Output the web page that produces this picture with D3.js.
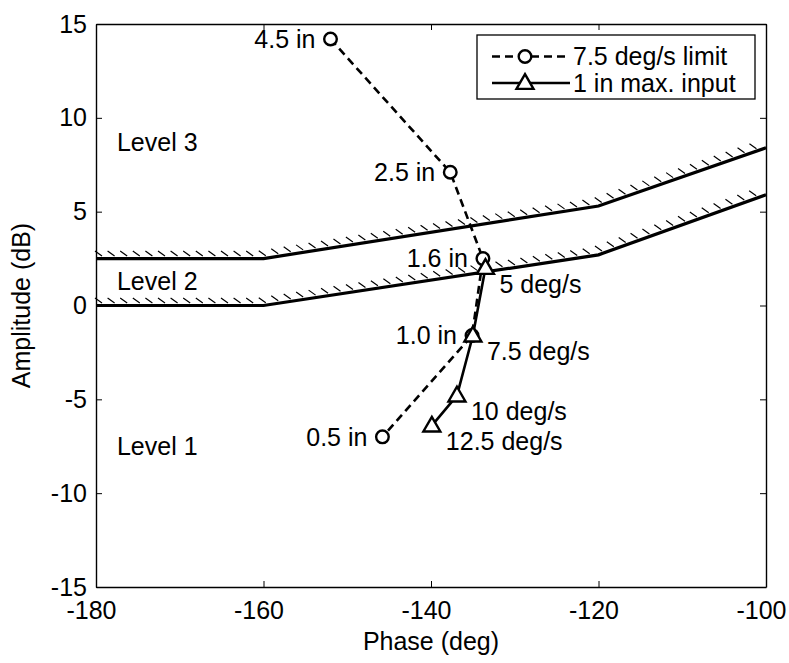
<!DOCTYPE html>
<html><head><meta charset="utf-8">
<script src="https://cdn.jsdelivr.net/npm/d3@7"></script>
<style>
html,body{margin:0;padding:0;background:#fff;}
text{font-family:"Liberation Sans",Arial,sans-serif;}
</style></head>
<body><svg id="c" width="789" height="663"></svg>
<script>
// ---- data ----
const xTicks = [-180, -160, -140, -120, -100];
const yTicks = [-15, -10, -5, 0, 5, 10, 15];

const limitLabels = ["4.5 in", "2.5 in", "1.6 in", "1.0 in", "0.5 in"];
const limitPhase  = [-152.0, -137.7, -133.8, -135.1, -145.8];
const limitAmp    = [14.2, 7.1, 2.5, -1.6, -7.0];

const inputLabels = ["5 deg/s", "7.5 deg/s", "10 deg/s", "12.5 deg/s"];
const inputPhase  = [-133.5, -135.0, -136.9, -139.9];
const inputAmp    = [2.0, -1.6, -4.8, -6.4];

const upperPhase = [-180, -160, -120, -100];
const upperAmp   = [2.5, 2.5, 5.3, 8.4];
const lowerPhase = [-180, -160, -120, -100];
const lowerAmp   = [0.0, 0.0, 2.7, 5.9];

const levelLabels = ["Level 3", "Level 2", "Level 1"];
const levelPhase  = [-177.5, -177.5, -177.5];
const levelAmp    = [8.7, 1.3, -7.5];

const legendLabels = ["7.5 deg/s limit", "1 in max. input"];

// ---- layout ----
const L = 96, R = 766, T = 24, B = 587;
const FS = 25;
const svg = d3.select("#c");
const x = d3.scaleLinear().domain([-180, -100]).range([L, R]);
const y = d3.scaleLinear().domain([-15, 15]).range([B, T]);
const fmt = d => String(d);

// axes (inward ticks, box)
const axB = svg.append("g").attr("transform", `translate(0,${B})`)
  .call(d3.axisBottom(x).tickValues(xTicks).tickFormat(fmt).tickSizeInner(-6).tickSizeOuter(0).tickPadding(14));
const axL = svg.append("g").attr("transform", `translate(${L},0)`)
  .call(d3.axisLeft(y).tickValues(yTicks).tickFormat(fmt).tickSizeInner(-6).tickSizeOuter(0).tickPadding(9));
const axT = svg.append("g").attr("transform", `translate(0,${T})`)
  .call(d3.axisTop(x).tickValues(xTicks).tickSizeInner(-6).tickSizeOuter(0).tickFormat(""));
const axR = svg.append("g").attr("transform", `translate(${R},0)`)
  .call(d3.axisRight(y).tickValues(yTicks).tickSizeInner(-6).tickSizeOuter(0).tickFormat(""));
[axB, axL, axT, axR].forEach(g => {
  g.selectAll("path.domain").attr("stroke", "#000").attr("stroke-width", 1.4);
  g.selectAll(".tick line").attr("stroke", "#000").attr("stroke-width", 1);
  g.selectAll(".tick text").attr("font-size", FS).attr("fill", "#000")
    .attr("font-family", '"Liberation Sans",Arial,sans-serif');
});
axB.selectAll(".tick text").attr("dy", "0.71em").attr("dx", -5);

// axis titles
svg.append("text").attr("x", (L + R) / 2).attr("y", 650).attr("text-anchor", "middle")
  .attr("font-size", FS).text("Phase (deg)");
svg.append("text").attr("transform", `translate(30,${(T + B) / 2}) rotate(-90)`)
  .attr("text-anchor", "middle").attr("font-size", FS).text("Amplitude (dB)");

// boundaries with hatch
function boundary(px, py) {
  const pts = px.map((p, i) => [x(p), y(py[i])]);
  svg.append("path").attr("d", d3.line()(pts)).attr("fill", "none")
    .attr("stroke", "#000").attr("stroke-width", 3.2);
  const step = 12.6;
  let carry = 6;
  let hatch = "";
  for (let i = 0; i < pts.length - 1; i++) {
    const [x0, y0] = pts[i], [x1, y1] = pts[i + 1];
    const len = Math.hypot(x1 - x0, y1 - y0);
    let s = carry;
    while (s <= len) {
      const t = s / len;
      const hx = x0 + (x1 - x0) * t, hy = y0 + (y1 - y0) * t;
      if (hx > L + 4 && hx < R - 1) hatch += `M${hx},${hy - 2.5}L${hx - 7},${hy - 7.5}`;
      s += step;
    }
    carry = s - len;
  }
  svg.append("path").attr("d", hatch).attr("stroke", "#000").attr("stroke-width", 1.2).attr("fill", "none");
}
boundary(upperPhase, upperAmp);
boundary(lowerPhase, lowerAmp);

// level labels
levelLabels.forEach((t, i) => {
  svg.append("text").attr("x", x(levelPhase[i])).attr("y", y(levelAmp[i])).attr("dy", "0.35em")
    .attr("font-size", FS).text(t);
});

// series
const triPath = d3.symbol().type(d3.symbolTriangle).size(125);
function triangle(g, cx, cy) {
  g.append("path").attr("d", triPath()).attr("transform", `translate(${cx},${cy + 1})`)
    .attr("fill", "#fff").attr("stroke", "#000").attr("stroke-width", 2.4);
}
function circle(g, cx, cy) {
  g.append("circle").attr("cx", cx).attr("cy", cy).attr("r", 6.3)
    .attr("fill", "#fff").attr("stroke", "#000").attr("stroke-width", 2.4);
}

const limPts = limitPhase.map((p, i) => [x(p), y(limitAmp[i])]);
const inPts = inputPhase.map((p, i) => [x(p), y(inputAmp[i])]);

svg.append("path").attr("d", d3.line()(limPts)).attr("fill", "none")
  .attr("stroke", "#000").attr("stroke-width", 2.6).attr("stroke-dasharray", "8,5");
svg.append("path").attr("d", d3.line()(inPts)).attr("fill", "none")
  .attr("stroke", "#000").attr("stroke-width", 2.6);

const gm = svg.append("g");
limPts.forEach(p => circle(gm, p[0], p[1]));
inPts.forEach(p => triangle(gm, p[0], p[1]));

limPts.forEach((p, i) => {
  svg.append("text").attr("x", p[0] - 15).attr("y", p[1]).attr("dy", "0.35em")
    .attr("text-anchor", "end").attr("font-size", FS).text(limitLabels[i]);
});
inPts.forEach((p, i) => {
  svg.append("text").attr("x", p[0] + 14).attr("y", p[1] + 16).attr("dy", "0.35em")
    .attr("font-size", FS).text(inputLabels[i]);
});

// legend
const lg = svg.append("g");
lg.append("rect").attr("x", 477).attr("y", 35).attr("width", 278).attr("height", 64)
  .attr("fill", "#fff").attr("stroke", "#000").attr("stroke-width", 1.3);
const ly = [56.5, 83];
lg.append("line").attr("x1", 492).attr("x2", 570).attr("y1", ly[0]).attr("y2", ly[0])
  .attr("stroke", "#000").attr("stroke-width", 2.6).attr("stroke-dasharray", "8,5");
circle(lg, 525, ly[0]);
lg.append("line").attr("x1", 492).attr("x2", 570).attr("y1", ly[1]).attr("y2", ly[1])
  .attr("stroke", "#000").attr("stroke-width", 2.6);
triangle(lg, 525, ly[1]);
legendLabels.forEach((t, i) => {
  lg.append("text").attr("x", 573).attr("y", ly[i]).attr("dy", "0.35em")
    .attr("font-size", FS).text(t);
});
</script></body></html>
